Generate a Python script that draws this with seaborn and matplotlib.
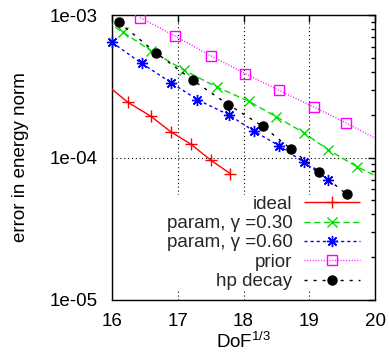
import numpy as np
import pandas as pd
import matplotlib
matplotlib.use("Agg")
import matplotlib.pyplot as plt
from matplotlib.ticker import FixedLocator, FuncFormatter, LogLocator, NullFormatter
import seaborn as sns

# ---- data ----
ideal_x = [15.85, 16.24, 16.59, 16.89, 17.20, 17.50, 17.80]
ideal_y = [3.44e-4, 2.44e-4, 1.95e-4, 1.52e-4, 1.24e-4, 9.6e-5, 7.7e-5]

p30_x = [15.80, 16.17, 16.59, 17.10, 17.59, 18.08, 18.50, 18.92, 19.29, 19.73, 20.15]
p30_y = [9.7e-4, 7.56e-4, 5.62e-4, 4.09e-4, 3.13e-4, 2.48e-4, 1.93e-4, 1.49e-4, 1.13e-4, 8.6e-5, 6.9e-5]

p60_x = [16.00, 16.45, 16.90, 17.30, 17.78, 18.16, 18.54, 18.92, 19.29]
p60_y = [6.43e-4, 4.58e-4, 3.35e-4, 2.54e-4, 1.99e-4, 1.53e-4, 1.21e-4, 9.25e-5, 6.95e-5]

prior_x = [16.43, 16.96, 17.50, 18.03, 18.54, 19.07, 19.56, 20.10]
prior_y = [9.58e-4, 7.12e-4, 5.18e-4, 3.87e-4, 2.96e-4, 2.26e-4, 1.75e-4, 1.29e-4]

hp_x = [16.10, 16.67, 17.23, 17.77, 18.29, 18.72, 19.15, 19.57]
hp_y = [8.93e-4, 5.43e-4, 3.48e-4, 2.35e-4, 1.66e-4, 1.15e-4, 7.9e-5, 5.52e-5]

labels = ["ideal", "param, \u03b3 =0.30", "param, \u03b3 =0.60", "prior", "hp decay"]
x_ticks = [16, 17, 18, 19, 20]
y_ticks = [1e-5, 1e-4, 1e-3]

sns.set_theme(style="white")
plt.rcParams["font.family"] = ["Liberation Sans", "DejaVu Sans"]
plt.rcParams["mathtext.default"] = "regular"
FS = 13.5

fig = plt.figure(figsize=(3.89, 3.60), dpi=100)
ax = fig.add_axes([112/389, 1-300/360, (375-112)/389, (300-15)/360])

styles = [
    dict(color="#ff0000", marker="+", ms=8, mew=1.0, ls=(0, ()), mfc="#ff0000", clip=True),
    dict(color="#00dd00", marker="x", ms=7, mew=1.0, ls=(0, (4.5, 2.5)), mfc="#00dd00", clip=True),
    dict(color="#0000ff", marker=(8, 2, 0), ms=8, mew=1.0, ls=(0, (2.2, 2.2)), mfc="#0000ff", clip=False),
    dict(color="#ff00ff", marker="s", ms=7, mew=1.0, ls=(0, (0.7, 1.3)), mfc="none", clip=True),
    dict(color="#000000", marker="o", ms=6.5, mew=1.0, ls=(0, (2.2, 4.3)), mfc="#000000", clip=True),
]
data = [(ideal_x, ideal_y), (p30_x, p30_y), (p60_x, p60_y), (prior_x, prior_y), (hp_x, hp_y)]

handles = []
for (xs, ys), st, lab in zip(data, styles, labels):
    df = pd.DataFrame({"x": xs, "y": ys})
    n_before = len(ax.lines)
    sns.lineplot(data=df, x="x", y="y", ax=ax, sort=False, color=st["color"], label=lab)
    ln = ax.lines[n_before]
    ln.set_linewidth(1.0)
    ln.set_linestyle(st["ls"])
    ln.set_marker(st["marker"])
    ln.set_markersize(st["ms"])
    ln.set_markeredgewidth(st["mew"])
    ln.set_markeredgecolor(st["color"])
    ln.set_markerfacecolor(st["mfc"])
    ln.set_clip_on(st["clip"])
    ln.set_zorder(3)
    handles.append(ln)

ax.set_yscale("log")
ax.set_xlim(16, 20)
ax.set_ylim(1e-5, 1e-3)

ax.xaxis.set_major_locator(FixedLocator(x_ticks))
ax.yaxis.set_major_locator(FixedLocator(y_ticks))
ax.yaxis.set_minor_locator(LogLocator(base=10, subs=np.arange(2, 10)))
ax.yaxis.set_minor_formatter(NullFormatter())
ax.yaxis.set_major_formatter(FuncFormatter(lambda v, p: "1e-%02d" % round(-np.log10(v))))
ax.set_xticklabels([str(t) for t in x_ticks])

ax.tick_params(which="both", direction="in", top=True, right=True, colors="black",
               labelsize=FS, width=1.0)
ax.tick_params(which="major", length=5, pad=9)
ax.tick_params(axis="y", which="major", pad=10)
ax.tick_params(which="minor", length=3)

for s in ax.spines.values():
    s.set_color("black")
    s.set_linewidth(1.0)

ax.grid(True, which="major", linestyle=(0, (1, 2.5)), color="black", lw=0.8, zorder=0.5)
ax.set_axisbelow(True)

ax.set_xlabel("DoF$^{1/3}$", fontsize=FS, color="black", labelpad=2)
ax.set_ylabel("error in energy norm", fontsize=FS, color="black", labelpad=15)

leg = ax.legend(handles=handles, labels=labels, loc="lower right",
                bbox_to_anchor=(0.947, 0.031), markerfirst=False, frameon=True,
                fontsize=FS, handlelength=3.0, handletextpad=0.6,
                labelspacing=0.12, borderpad=0.05, borderaxespad=0.0, fancybox=False)
leg.get_frame().set_facecolor("white")
leg.get_frame().set_edgecolor("none")
leg.get_frame().set_alpha(1.0)
for t in leg.get_texts():
    t.set_ha("right")
leg.set_zorder(2.5)
leg._legend_box.align = "right"
for vp in leg._legend_handle_box.get_children():
    vp.align = "right"

fig.savefig("out.png", dpi=100)
